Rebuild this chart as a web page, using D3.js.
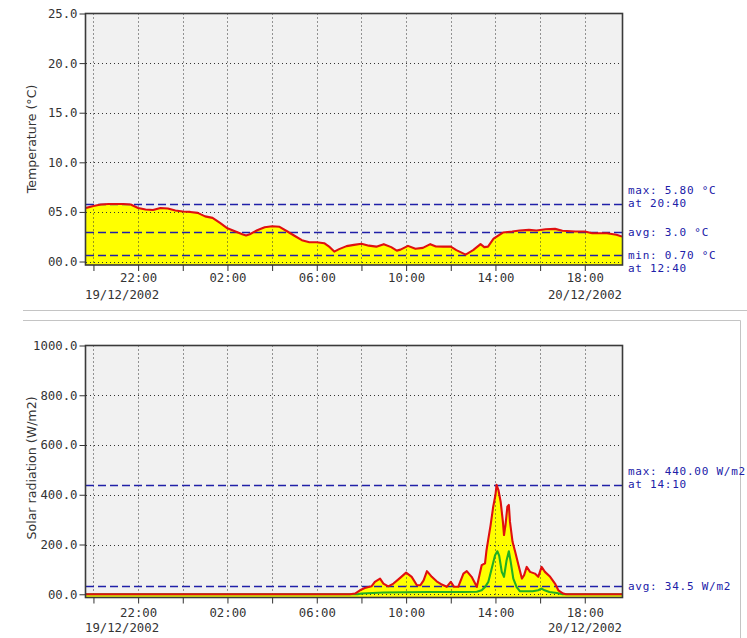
<!DOCTYPE html>
<html>
<head>
<meta charset="utf-8">
<script src="https://cdn.jsdelivr.net/npm/d3@7"></script>
<style>
  html, body { margin: 0; padding: 0; background: #ffffff; }
  svg { display: block; }
</style>
</head>
<body>
<svg id="chart" width="747" height="638"></svg>
<script>
// ---- Temperature, 19/12/2002 19:40 to 20/12/2002 19:40 ----
const tempTimes = [
  "19:40","20:00","20:20","20:40","21:00","21:20","21:40","22:00","22:20","22:40",
  "23:00","23:20","23:40","00:00","00:20","00:40","01:00","01:20","01:40","02:00",
  "02:20","02:40","02:50","03:00","03:20","03:40","04:00","04:20","04:40","05:00",
  "05:20","05:40","06:00","06:20","06:35","06:47","07:00","07:20","07:40","08:00",
  "08:20","08:40","09:00","09:20","09:35","09:45","10:05","10:25","10:45","11:05",
  "11:20","11:40","12:00","12:15","12:40","13:00","13:20","13:30","13:40","13:55",
  "14:20","14:45","15:05","15:30","15:50","16:15","16:40","17:00","17:35","18:00",
  "18:20","19:00","19:25","19:40"
];
const tempValues = [
  5.40,5.60,5.75,5.80,5.80,5.80,5.75,5.40,5.25,5.20,
  5.40,5.35,5.15,5.05,5.00,4.90,4.55,4.40,3.90,3.35,
  3.05,2.75,2.62,2.75,3.15,3.45,3.55,3.50,3.05,2.60,
  2.15,1.95,1.95,1.85,1.45,1.00,1.25,1.55,1.68,1.80,
  1.60,1.50,1.75,1.45,1.10,1.20,1.58,1.28,1.38,1.75,
  1.52,1.50,1.50,1.15,0.70,1.15,1.75,1.45,1.50,2.30,
  2.92,3.02,3.12,3.19,3.12,3.26,3.29,3.10,3.02,3.02,
  2.85,2.85,2.70,2.52
];
const tempMax = 5.80, tempMaxAt = "20:40";
const tempAvg = 3.0;
const tempMin = 0.70, tempMinAt = "12:40";
const tempTickValues = [0, 5, 10, 15, 20, 25];
const tempTickLabels = ["00.0", "05.0", "10.0", "15.0", "20.0", "25.0"];

// ---- Solar radiation, same period ----
const solarTimes = [
  "19:40","07:29","07:43","07:56","08:09","08:27","08:36","08:50","08:59","09:12",
  "09:26","09:44","10:00","10:15","10:29","10:38","10:47","10:56","11:09","11:22",
  "11:36","11:49","12:00","12:09","12:20","12:34","12:43","12:56","13:10","13:14",
  "13:23","13:32","13:36","13:41","13:47","13:54","14:00","14:03","14:08","14:14",
  "14:20","14:23","14:27","14:32","14:36","14:39","14:46","14:53","15:02","15:11",
  "15:17","15:24","15:33","15:46","15:55","16:04","16:13","16:27","16:40","16:49",
  "17:02","17:10","19:40"
];
const solarPeak = [
  0,0,3,16,25,32,50,63,43,32,
  43,66,87,70,36,36,56,93,70,52,
  39,30,50,30,30,83,93,70,30,56,
  117,124,177,224,278,352,399,440,419,372,
  292,238,278,352,359,292,211,171,117,63,
  77,110,90,83,70,110,90,70,43,16,
  3,0,0
];
const solarMeanTimes = [
  "19:40","07:50","08:00","08:30","09:00","10:00","11:00","12:30","13:10","13:23",
  "13:32","13:41","13:50","13:59","14:05","14:10","14:17","14:23","14:30","14:36",
  "14:41","14:48","14:57","15:06","15:40","15:55","16:04","16:12","16:25","16:45",
  "17:00","19:40"
];
const solarMean = [
  0,0,3,5,7,8,9,9,10,16,
  29,50,104,157,173,155,90,70,137,173,
  130,63,29,12,12,16,23,16,9,5,
  0,0
];
const solarMax = 440.00, solarMaxAt = "14:10";
const solarAvg = 34.5;
const solarTickValues = [0, 200, 400, 600, 800, 1000];
const solarTickLabels = ["00.0", "200.0", "400.0", "600.0", "800.0", "1000.0"];

// ---- shared time axis ----
const hourLabels = ["22:00", "02:00", "06:00", "10:00", "14:00", "18:00"];
const dateLabels = ["19/12/2002", "20/12/2002"];

const MONO = "'DejaVu Sans Mono', monospace";
const SANS = "'DejaVu Sans', Verdana, sans-serif";
const statColor = "#2020a8";

// Turn "HH:MM" strings into dates, stepping to the next day after midnight.
function toDates(times) {
  let day = 19, prev = -1;
  return times.map(s => {
    const [h, m] = s.split(":").map(Number);
    const mins = h * 60 + m;
    if (prev >= 0 && mins < prev) day++;
    prev = mins;
    return new Date(2002, 11, day, h, m);
  });
}
function zip(times, values) {
  const ds = toDates(times);
  return ds.map((t, i) => ({ t, v: values[i] }));
}

const svg = d3.select("#chart");
const plotLeft = 86, plotRight = 622;
const x = d3.scaleTime()
  .domain([new Date(2002, 11, 19, 19, 40), new Date(2002, 11, 20, 19, 40)])
  .range([plotLeft, plotRight]);
const fmtHM = d3.timeFormat("%H:%M");

// Panel frames (light gray rules between the two graphs)
svg.append("line").attr("x1", 23).attr("x2", 747).attr("y1", 310.5).attr("y2", 310.5)
  .attr("stroke", "#c4c4c4").attr("stroke-width", 1);
svg.append("line").attr("x1", 23).attr("x2", 740.5).attr("y1", 320.5).attr("y2", 320.5)
  .attr("stroke", "#c4c4c4").attr("stroke-width", 1);
svg.append("line").attr("x1", 740.5).attr("x2", 740.5).attr("y1", 320.5).attr("y2", 638)
  .attr("stroke", "#c4c4c4").attr("stroke-width", 1);

function drawPanel(opt) {
  const { id, top, bottom, yDomain, ticks, tickLabels, title, titleY,
          fills, lines, stats, timeDy, dateDy } = opt;
  const y = d3.scaleLinear().domain(yDomain).range([bottom, top]);
  const g = svg.append("g");

  g.append("clipPath").attr("id", "clip-" + id)
    .append("rect").attr("x", plotLeft).attr("y", top)
    .attr("width", plotRight - plotLeft).attr("height", bottom - top);

  // plot background
  g.append("rect").attr("x", plotLeft).attr("y", top)
    .attr("width", plotRight - plotLeft).attr("height", bottom - top)
    .attr("fill", "#f1f1f1");

  const inner = g.append("g").attr("clip-path", "url(#clip-" + id + ")");

  // filled area under the main series
  fills.forEach(data => {
    inner.append("path").datum(data)
      .attr("d", d3.area().x(d => x(d.t)).y0(bottom).y1(d => y(d.v)))
      .attr("fill", "#ffff00");
  });

  // dotted grid
  const gridTimes = x.ticks(d3.timeHour.every(2));
  inner.selectAll(".vgrid").data(gridTimes).join("line")
    .attr("x1", d => Math.round(x(d)) + 0.5).attr("x2", d => Math.round(x(d)) + 0.5)
    .attr("y1", top).attr("y2", bottom)
    .attr("stroke", "#333").attr("stroke-width", 1).attr("stroke-dasharray", "1,3");
  inner.selectAll(".hgrid").data(ticks.slice(0, -1)).join("line")
    .attr("x1", plotLeft).attr("x2", plotRight)
    .attr("y1", d => Math.round(y(d)) + 0.5).attr("y2", d => Math.round(y(d)) + 0.5)
    .attr("stroke", "#333").attr("stroke-width", 1).attr("stroke-dasharray", "1,3");

  // statistic reference lines
  stats.forEach(s => {
    const ly = Math.round(y(s.value)) + 0.5;
    inner.append("line")
      .attr("x1", plotLeft).attr("x2", plotRight)
      .attr("y1", ly).attr("y2", ly)
      .attr("stroke", statColor).attr("stroke-width", 1.3)
      .attr("stroke-dasharray", "8,4");
  });

  // series lines
  lines.forEach(l => {
    inner.append("path").datum(l.data)
      .attr("d", d3.line().x(d => x(d.t)).y(d => y(d.v)))
      .attr("fill", "none").attr("stroke", l.color)
      .attr("stroke-width", 2.1).attr("stroke-linejoin", "round");
  });

  // frame
  g.append("rect").attr("x", plotLeft - 0.5).attr("y", top)
    .attr("width", plotRight - plotLeft + 1).attr("height", bottom - top)
    .attr("fill", "none").attr("stroke", "#3a3a3a").attr("stroke-width", 1.6);

  // y axis
  const yAxis = g.append("g").attr("transform", `translate(${plotLeft - 0.5},0)`)
    .call(d3.axisLeft(y).tickValues(ticks).tickFormat((d, i) => tickLabels[i])
      .tickSize(6).tickPadding(2));
  yAxis.select(".domain").remove();
  yAxis.selectAll("line").attr("stroke", "#333");
  yAxis.selectAll("text").attr("font-family", MONO).attr("font-size", "12.3px").attr("fill", "#333");

  // x axis
  const xAxis = g.append("g").attr("transform", `translate(0,${bottom})`)
    .call(d3.axisBottom(x).ticks(d3.timeHour.every(2))
      .tickFormat(d => hourLabels.includes(fmtHM(d)) ? fmtHM(d) : "")
      .tickSize(6).tickPadding(2));
  xAxis.select(".domain").remove();
  xAxis.selectAll("line").attr("stroke", "#333");
  xAxis.selectAll("text").attr("font-family", MONO).attr("font-size", "12.3px")
    .attr("fill", "#333").attr("dy", null).attr("y", timeDy);

  g.append("text").attr("x", plotLeft - 1).attr("y", bottom + dateDy)
    .attr("font-family", MONO).attr("font-size", "12.3px").attr("fill", "#333")
    .text(dateLabels[0]);
  g.append("text").attr("x", plotRight).attr("y", bottom + dateDy).attr("text-anchor", "end")
    .attr("font-family", MONO).attr("font-size", "12.3px").attr("fill", "#333")
    .text(dateLabels[1]);

  // axis title
  g.append("text").attr("transform", `translate(36,${titleY}) rotate(-90)`)
    .attr("text-anchor", "middle").attr("font-family", SANS).attr("font-size", "12.6px")
    .attr("fill", "#333").text(title);

  // statistic labels
  stats.forEach(s => {
    const ly = y(s.value);
    s.text.forEach((t, i) => {
      g.append("text").attr("x", 628).attr("y", ly + s.offsets[i])
        .attr("font-family", MONO).attr("font-size", "11px")
        .attr("letter-spacing", "0.75px").attr("fill", statColor)
        .text(t);
    });
  });
}

const tempData = zip(tempTimes, tempValues);
drawPanel({
  id: "temp", top: 13.5, bottom: 265, yDomain: [-0.35, 25],
  ticks: tempTickValues, tickLabels: tempTickLabels,
  title: "Temperature (°C)", titleY: 139,
  fills: [tempData],
  lines: [{ data: tempData, color: "#e01010" }],
  timeDy: 16.5, dateDy: 33.5,
  stats: [
    { value: tempMax, text: [`max: ${d3.format(".2f")(tempMax)} °C`, `at ${tempMaxAt}`], offsets: [-9.5, 3.5] },
    { value: tempAvg, text: [`avg: ${d3.format(".1f")(tempAvg)} °C`], offsets: [4] },
    { value: tempMin, text: [`min: ${d3.format(".2f")(tempMin)} °C`, `at ${tempMinAt}`], offsets: [4.5, 17.5] }
  ]
});

const peakData = zip(solarTimes, solarPeak);
const meanData = zip(solarMeanTimes, solarMean);
drawPanel({
  id: "solar", top: 345.5, bottom: 597.5, yDomain: [-13, 1000],
  ticks: solarTickValues, tickLabels: solarTickLabels,
  title: "Solar radiation (W/m2)", titleY: 468,
  fills: [peakData],
  lines: [{ data: meanData, color: "#22b022" }, { data: peakData, color: "#e01010" }],
  timeDy: 19, dateDy: 34,
  stats: [
    { value: solarMax, text: [`max: ${d3.format(".2f")(solarMax)} W/m2`, `at ${solarMaxAt}`], offsets: [-9.5, 3.5] },
    { value: solarAvg, text: [`avg: ${d3.format(".1f")(solarAvg)} W/m2`], offsets: [4] }
  ]
});
</script>
</body>
</html>
